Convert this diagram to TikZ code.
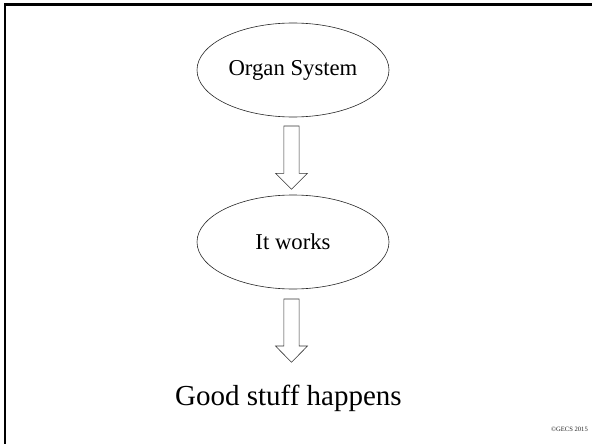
\documentclass[tikz,border=0pt]{standalone}
\usepackage{fontspec}
\setmainfont{Liberation Serif}
\usetikzlibrary{shapes.geometric}
\begin{document}
\begin{tikzpicture}[x=1pt,y=-1pt,
  oval/.style={draw=black!85, line width=0.6pt, ellipse, minimum width=192pt, minimum height=94pt, inner sep=0pt, font=\fontsize{22.7}{27}\selectfont},
  blockarrow/.style={draw=black!80, line width=0.6pt, fill=white, line join=miter},
  frameline/.style={line width=2.6pt, black},
  bigtext/.style={font=\fontsize{29}{34}\selectfont, inner sep=0pt},
  smalltext/.style={font=\fontsize{6.6}{8}\selectfont, inner sep=0pt, text=black!85}]
\useasboundingbox (0,0) rectangle (592,444);
\fill[white] (0,0) rectangle (592,444);
% frame
\coordinate (fc) at (5,4.5);
\coordinate (fr) at (592,4.5);
\coordinate (fb) at (5,444);
\draw[frameline] (fr) -- (fc) -- (fb);
% nodes
\node[oval] (organ) at (293,70) {Organ System};
\node[oval] (works) at (293,242) {It works};
\node[bigtext] (good) at (288.5,398) {Good stuff happens};
\node[smalltext, anchor=east] (copy) at (588,429) {©GECS 2015};
% block arrows
\coordinate (a1) at (291.5,126);
\draw[blockarrow] (a1) ++(-7.65,0) -- ++(15.3,0) -- ++(0,47.3) -- ++(8.35,0) -- ++(-16,16) -- ++(-16,-16) -- ++(8.35,0) -- cycle;
\coordinate (a2) at (291.5,299);
\draw[blockarrow] (a2) ++(-7.65,0) -- ++(15.3,0) -- ++(0,47) -- ++(8.35,0) -- ++(-16,16.3) -- ++(-16,-16.3) -- ++(8.35,0) -- cycle;
\end{tikzpicture}
\end{document}
